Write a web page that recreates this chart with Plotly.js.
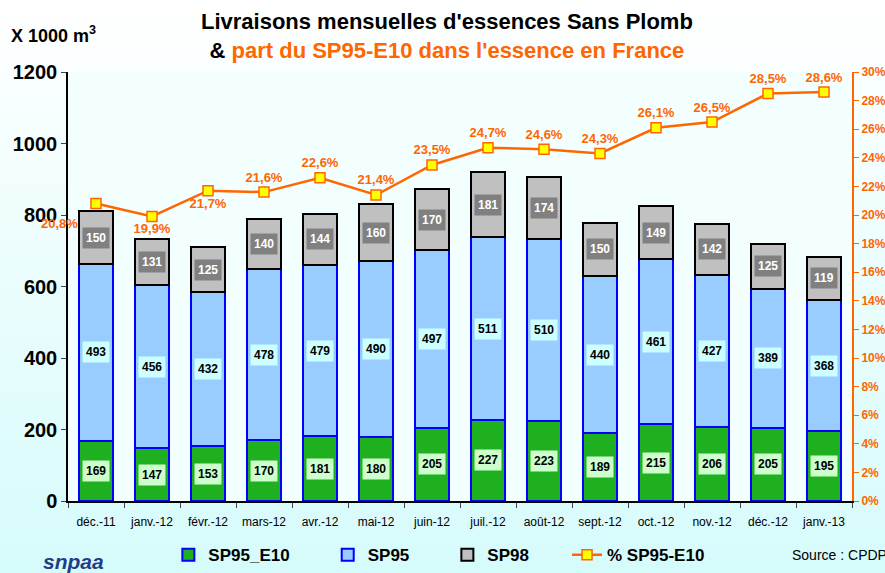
<!DOCTYPE html>
<html>
<head>
<meta charset="utf-8">
<script src="https://cdn.plot.ly/plotly-3.0.1.min.js"></script>
<style>
  html, body { margin: 0; padding: 0; }
  body { background: linear-gradient(#ffffff, #d6fbfb); width: 885px; height: 573px; overflow: hidden; }
  #chart { width: 885px; height: 573px; }
</style>
</head>
<body>
<div id="chart"></div>
<script>
// months and monthly deliveries (x 1000 m3)
var months = ["déc.-11", "janv.-12", "févr.-12", "mars-12", "avr.-12", "mai-12", "juin-12",
              "juil.-12", "août-12", "sept.-12", "oct.-12", "nov.-12", "déc.-12", "janv.-13"];
var sp95e10 = [169, 147, 153, 170, 181, 180, 205, 227, 223, 189, 215, 206, 205, 195];
var sp95    = [493, 456, 432, 478, 479, 490, 497, 511, 510, 440, 461, 427, 389, 368];
var sp98    = [150, 131, 125, 140, 144, 160, 170, 181, 174, 150, 149, 142, 125, 119];
var partE10 = [20.8, 19.9, 21.7, 21.6, 22.6, 21.4, 23.5, 24.7, 24.6, 24.3, 26.1, 26.5, 28.5, 28.6];

var pctText = partE10.map(function(v){ return v.toFixed(1).replace('.', ',') + '%'; });
// first label is placed by an annotation (sits left of the bar)
var lineText = pctText.map(function(t, i){ return i == 0 ? '' : t; });
var pctPos = partE10.map(function(v, i){
	if (i < 3) return 'bottom center';
	return 'top center';
});

// legend entries are spaced wider apart in the original
var pad = '\u00a0\u00a0\u00a0\u00a0\u00a0\u00a0\u00a0';

var traces = [
	{
		x: months, y: sp95e10, type: 'bar', name: 'SP95_E10' + pad,
		marker: { color: '#1fb01f', line: { color: '#0000ff', width: 2 } },
		hoverinfo: 'y'
	},
	{
		x: months, y: sp95, type: 'bar', name: 'SP95' + pad,
		marker: { color: '#99ccff', line: { color: '#0000ff', width: 2 } },
		hoverinfo: 'y'
	},
	{
		x: months, y: sp98, type: 'bar', name: 'SP98' + pad,
		marker: { color: '#c0c0c0', line: { color: '#000000', width: 2 } },
		hoverinfo: 'y'
	},
	{
		x: months, y: partE10, type: 'scatter', mode: 'lines+markers+text', name: '% SP95-E10',
		yaxis: 'y2',
		line: { color: '#ff6600', width: 2.5 },
		marker: { symbol: 'square', size: 10, color: '#ffff00', line: { color: '#ff6600', width: 1.5 } },
		text: lineText, textposition: pctPos,
		textfont: { color: '#ff6600', size: 13, family: 'Liberation Sans, Arial', weight: 'bold' },
		cliponaxis: false
	}
];

// value boxes inside each bar segment
var annotations = [];
for (var i = 0; i < months.length; i++) {
	var base = 0;
	var segs = [
		[sp95e10[i], '#ccffcc', '#000000'],
		[sp95[i], '#ccffff', '#000000'],
		[sp98[i], '#808080', '#ffffff']
	];
	for (var j = 0; j < segs.length; j++) {
		annotations.push({
			x: months[i], y: base + segs[j][0] / 2, xref: 'x', yref: 'y',
			text: '<b>' + segs[j][0] + '</b>', showarrow: false,
			bgcolor: segs[j][1], borderpad: 3,
			font: { color: segs[j][2], size: 12, family: 'Liberation Sans, Arial' }
		});
		base += segs[j][0];
	}
}

annotations.push({
	x: months[0], y: partE10[0], xref: 'x', yref: 'y2',
	xanchor: 'right', yanchor: 'middle', xshift: -16, yshift: -20,
	text: '<b>' + pctText[0] + '</b>', showarrow: false,
	font: { size: 13, color: '#ff6600', family: 'Liberation Sans, Arial' }
});
annotations.push({
	xref: 'paper', yref: 'paper', x: -0.075, y: 1.055, xanchor: 'left', yanchor: 'bottom',
	text: '<b>X 1000 m<sup>3</sup></b>', showarrow: false,
	font: { size: 18, color: '#000000', family: 'Liberation Sans, Arial' }
});
annotations.push({
	xref: 'paper', yref: 'paper', x: 0.921, y: -0.1256, xanchor: 'left', yanchor: 'middle',
	text: 'Source : CPDP', showarrow: false,
	font: { size: 14, color: '#000000', family: 'Liberation Sans, Arial' }
});
annotations.push({
	xref: 'paper', yref: 'paper', x: -0.034, y: -0.14, xanchor: 'left', yanchor: 'middle',
	text: '<b>snpaa</b>', showarrow: false,
	font: { size: 21, color: '#1f3d8a', family: 'Liberation Sans, Arial', style: 'italic' }
});

var layout = {
	width: 885, height: 573,
	margin: { l: 68, r: 33, t: 72, b: 72 },
	paper_bgcolor: 'rgba(0,0,0,0)',
	plot_bgcolor: '#f3ffff',
	barmode: 'stack',
	bargap: 0.41,
	font: { family: 'Liberation Sans, Arial', color: '#000000' },
	title: {
		text: '<b>Livraisons mensuelles d\'essences Sans Plomb<br>&amp; <span style="color:#ff6600">part du SP95-E10 dans l\'essence en France</span></b>',
		x: 0.505, xanchor: 'center', y: 0.949, yanchor: 'middle',
		font: { size: 22, color: '#000000', family: 'Liberation Sans, Arial' }
	},
	xaxis: {
		type: 'category', range: [-0.5, 13.5], tickson: 'boundaries', ticks: 'outside', ticklen: 5,
		tickangle: 0, automargin: false, ticklabelstandoff: 9,
		showline: true, linecolor: '#000000', linewidth: 1.5, showgrid: false,
		tickfont: { size: 12, family: 'Liberation Sans, Arial' }
	},
	yaxis: {
		range: [0, 1200], dtick: 200, ticks: 'outside', ticklen: 5, automargin: false,
		showline: true, linecolor: '#000000', linewidth: 1.5, showgrid: false, zeroline: false,
		tickfont: { size: 20, family: 'Liberation Sans, Arial', weight: 'bold' }
	},
	yaxis2: {
		overlaying: 'y', side: 'right', range: [0, 30], dtick: 2, ticksuffix: '%',
		ticks: 'outside', ticklen: 5, tickcolor: '#ff6600', automargin: false,
		showline: true, linecolor: '#ff6600', linewidth: 2, showgrid: false, zeroline: false,
		tickfont: { size: 12, color: '#ff6600', family: 'Liberation Sans, Arial', weight: 'bold' }
	},
	showlegend: true,
	legend: {
		orientation: 'h', xref: 'paper', x: 0.128, yref: 'container', y: 0.031,
		xanchor: 'left', yanchor: 'middle',
		font: { size: 17, family: 'Liberation Sans, Arial', weight: 'bold' },
		bgcolor: 'rgba(0,0,0,0)', traceorder: 'normal'
	},
	annotations: annotations
};

Plotly.newPlot('chart', traces, layout, { displayModeBar: false });
</script>
</body>
</html>
